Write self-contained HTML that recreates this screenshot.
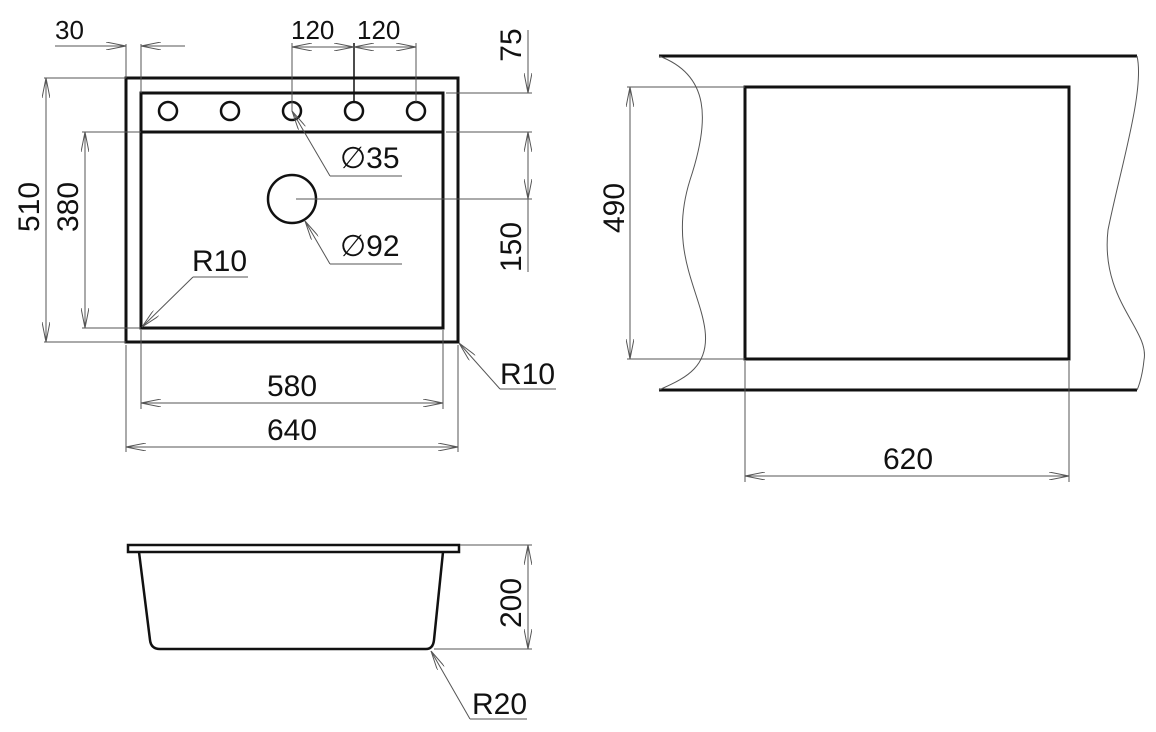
<!DOCTYPE html>
<html><head><meta charset="utf-8"><style>
html,body{margin:0;padding:0;background:#fff;}
svg{display:block;}
text{font-family:"Liberation Sans",sans-serif;fill:#111;}
</style></head><body>
<svg width="1156" height="732" viewBox="0 0 1156 732" xmlns="http://www.w3.org/2000/svg">
<defs>
<marker id="a" viewBox="0 0 20 8" refX="20" refY="4" markerWidth="20" markerHeight="8" markerUnits="userSpaceOnUse" orient="auto-start-reverse">
<path d="M0,0 L20,4 L0,8" fill="none" stroke="#555" stroke-width="1"/>
</marker>
</defs>
<g fill="none" stroke="#111" stroke-width="3">
<rect x="126" y="78" width="332" height="264"/>
<rect x="141" y="93" width="302" height="235"/>
<line x1="141" y1="132" x2="443" y2="132"/>
<circle cx="168" cy="111" r="9" stroke-width="2.5"/>
<circle cx="230" cy="111" r="9" stroke-width="2.5"/>
<circle cx="292" cy="111" r="9" stroke-width="2.5"/>
<circle cx="354" cy="111" r="9" stroke-width="2.5"/>
<circle cx="416" cy="111" r="9" stroke-width="2.5"/>
<circle cx="292" cy="199" r="24" stroke-width="2.5"/>
<line x1="659" y1="56" x2="1137" y2="56"/>
<line x1="659" y1="390" x2="1137" y2="390"/>
<rect x="745" y="87" width="324" height="272"/>
<rect x="128" y="545" width="331" height="7" stroke-width="2.5"/>
<path d="M139,552 L150,640 Q151,649 160,649 L426,649 Q433,649 434,640 L443,552" stroke-width="2.5"/>
</g>
<g fill="none" stroke="#555" stroke-width="1">
<line x1="126" y1="44" x2="126" y2="78"/>
<line x1="141" y1="44" x2="141" y2="93"/>
<line x1="55" y1="46" x2="126" y2="46" marker-end="url(#a)"/>
<line x1="185" y1="46" x2="141" y2="46" marker-end="url(#a)"/>
<line x1="292" y1="43" x2="292" y2="111"/>
<line x1="354" y1="43" x2="354" y2="102" stroke="#111" stroke-width="1.5"/>
<line x1="416" y1="43" x2="416" y2="102"/>
<line x1="292" y1="47" x2="354" y2="47" marker-start="url(#a)" marker-end="url(#a)"/>
<line x1="354" y1="47" x2="416" y2="47" marker-start="url(#a)" marker-end="url(#a)"/>
<line x1="446" y1="93" x2="532" y2="93"/>
<line x1="446" y1="132" x2="532" y2="132"/>
<line x1="296" y1="199" x2="532" y2="199"/>
<line x1="528" y1="30" x2="528" y2="93" marker-end="url(#a)"/>
<line x1="528" y1="132" x2="528" y2="199" marker-start="url(#a)" marker-end="url(#a)"/>
<line x1="528" y1="199" x2="528" y2="272"/>
<line x1="44" y1="78" x2="126" y2="78"/>
<line x1="44" y1="342" x2="126" y2="342"/>
<line x1="46" y1="78" x2="46" y2="342" marker-start="url(#a)" marker-end="url(#a)"/>
<line x1="82" y1="132" x2="141" y2="132"/>
<line x1="82" y1="328" x2="141" y2="328"/>
<line x1="85" y1="132" x2="85" y2="328" marker-start="url(#a)" marker-end="url(#a)"/>
<polyline points="402,176 330,176"/>
<line x1="330" y1="176" x2="292" y2="111" marker-end="url(#a)"/>
<polyline points="402,264 330,264"/>
<line x1="330" y1="264" x2="305" y2="221" marker-end="url(#a)"/>
<line x1="248" y1="277" x2="193" y2="277"/>
<line x1="193" y1="277" x2="142" y2="327" marker-end="url(#a)"/>
<line x1="556" y1="389" x2="500" y2="389"/>
<line x1="500" y1="389" x2="459" y2="343" marker-end="url(#a)"/>
<line x1="141" y1="330" x2="141" y2="409"/>
<line x1="443" y1="330" x2="443" y2="409"/>
<line x1="126" y1="345" x2="126" y2="452"/>
<line x1="458" y1="345" x2="458" y2="452"/>
<line x1="141" y1="403" x2="443" y2="403" marker-start="url(#a)" marker-end="url(#a)"/>
<line x1="126" y1="447" x2="458" y2="447" marker-start="url(#a)" marker-end="url(#a)"/>
<path d="M659,56 C710,75 710,120 690,180 C668,250 700,290 705,330 C710,370 680,380 659,390"/>
<path d="M1137,56 C1145,90 1120,170 1108,230 C1100,300 1150,330 1144,360 C1142,380 1137,390 1137,390"/>
<line x1="627" y1="87" x2="745" y2="87"/>
<line x1="627" y1="359" x2="745" y2="359"/>
<line x1="630" y1="87" x2="630" y2="359" marker-start="url(#a)" marker-end="url(#a)"/>
<line x1="745" y1="361" x2="745" y2="482"/>
<line x1="1069" y1="361" x2="1069" y2="482"/>
<line x1="745" y1="476" x2="1069" y2="476" marker-start="url(#a)" marker-end="url(#a)"/>
<line x1="460" y1="545" x2="532" y2="545"/>
<line x1="434" y1="649" x2="532" y2="649"/>
<line x1="528" y1="545" x2="528" y2="649" marker-start="url(#a)" marker-end="url(#a)"/>
<line x1="527" y1="719" x2="470" y2="719"/>
<line x1="470" y1="719" x2="431" y2="651" marker-end="url(#a)"/>
</g>
<g font-size="26">
<text x="55" y="39">30</text>
<text x="291" y="39">120</text>
<text x="357" y="39">120</text>
</g>
<g font-size="30">
<text transform="translate(521,45) rotate(-90)" text-anchor="middle">75</text>
<text transform="translate(521,247) rotate(-90)" text-anchor="middle">150</text>
<text transform="translate(39,207) rotate(-90)" text-anchor="middle">510</text>
<text transform="translate(78,207) rotate(-90)" text-anchor="middle">380</text>
<text transform="translate(624,208) rotate(-90)" text-anchor="middle">490</text>
<text transform="translate(521,603) rotate(-90)" text-anchor="middle">200</text>
<text x="340" y="168">∅35</text>
<text x="340" y="256">∅92</text>
<text x="192" y="271">R10</text>
<text x="500" y="384">R10</text>
<text x="292" y="396" text-anchor="middle">580</text>
<text x="292" y="440" text-anchor="middle">640</text>
<text x="908" y="469" text-anchor="middle">620</text>
<text x="472" y="714">R20</text>
</g>
</svg>
</body></html>
